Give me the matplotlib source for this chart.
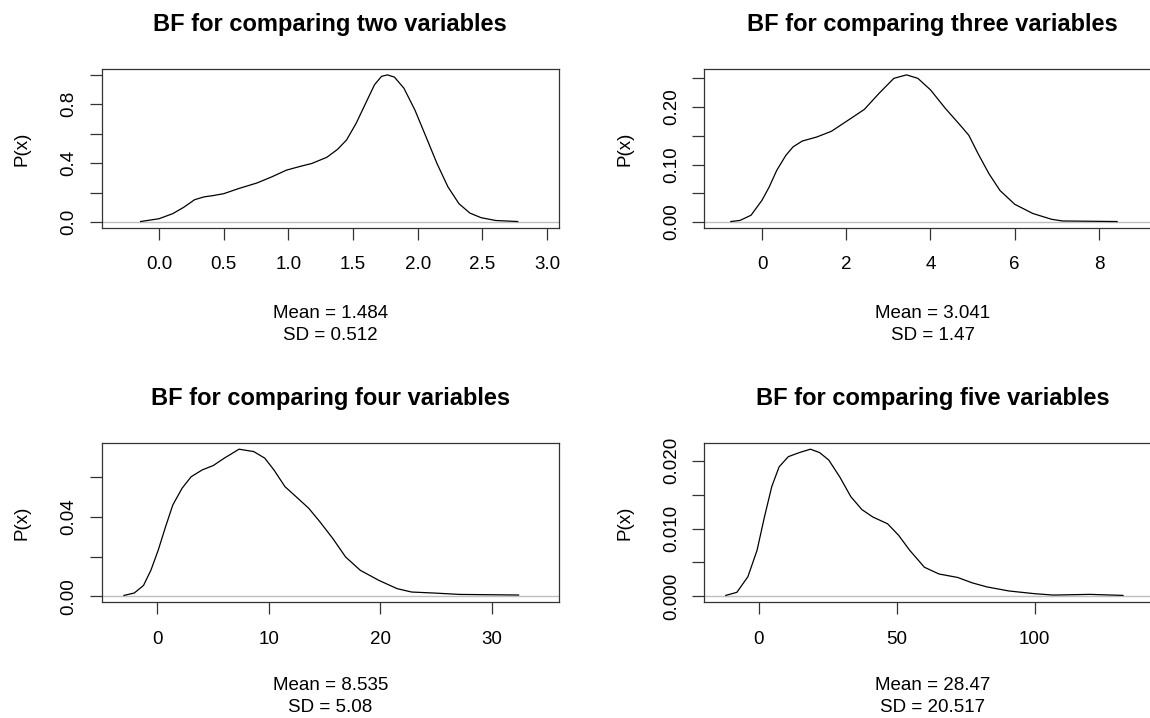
import matplotlib
matplotlib.use("Agg")
import matplotlib.pyplot as plt

plt.rcParams['font.family'] = ['Liberation Sans', 'DejaVu Sans']

# density curves
two_x = [-0.142, 0.0, 0.105, 0.19, 0.275, 0.346, 0.417, 0.50, 0.616, 0.758, 0.871, 0.985,
         1.098, 1.18, 1.297, 1.38, 1.45, 1.524, 1.61, 1.666, 1.72, 1.766, 1.82, 1.893,
         1.978, 2.064, 2.149, 2.234, 2.319, 2.404, 2.49, 2.603, 2.773]
two_y = [0.004, 0.023, 0.057, 0.10, 0.152, 0.171, 0.18, 0.193, 0.228, 0.266, 0.307, 0.353,
         0.38, 0.398, 0.44, 0.494, 0.558, 0.671, 0.83, 0.933, 0.99, 1.0, 0.985, 0.91,
         0.762, 0.58, 0.398, 0.239, 0.125, 0.061, 0.03, 0.011, 0.004]

three_x = [-0.74, -0.52, -0.26, 0.0, 0.17, 0.35, 0.565, 0.74, 0.957, 1.30, 1.65, 2.0, 2.43,
           2.78, 3.13, 3.43, 3.70, 4.0, 4.35, 4.70, 4.91, 5.13, 5.39, 5.65, 6.0, 6.43,
           6.87, 7.13, 8.43]
three_y = [0.001, 0.003, 0.012, 0.038, 0.061, 0.09, 0.116, 0.131, 0.141, 0.148, 0.158, 0.175,
           0.196, 0.224, 0.25, 0.256, 0.25, 0.23, 0.198, 0.169, 0.151, 0.119, 0.084, 0.055,
           0.031, 0.015, 0.005, 0.002, 0.001]

four_x = [-3.0, -2.08, -1.25, -0.59, 0.07, 0.73, 1.38, 2.21, 3.03, 4.02, 5.01, 6.0, 7.32,
          8.64, 9.63, 10.45, 11.44, 12.43, 13.58, 14.57, 15.73, 16.88, 18.2, 19.85, 21.5,
          22.8, 24.8, 27.1, 32.4]
four_y = [0.0005, 0.0017, 0.0055, 0.0131, 0.0232, 0.035, 0.0459, 0.0543, 0.0601, 0.0635,
          0.0657, 0.0694, 0.0739, 0.0727, 0.0694, 0.0635, 0.0551, 0.0501, 0.0442, 0.0375,
          0.0291, 0.0198, 0.0131, 0.0081, 0.0039, 0.0022, 0.0017, 0.001, 0.0007]

five_x = [-12, -8, -4, -0.67, 2, 4.67, 7.33, 10.67, 14.67, 18.67, 22, 25.33, 29.33, 33.33,
          37.33, 41.33, 46.67, 50.67, 54.67, 60, 65.33, 72, 77.33, 82.67, 90.67, 100,
          106.67, 120, 132]
five_y = [0.00015, 0.0006, 0.0029, 0.0068, 0.0117, 0.0162, 0.0191, 0.0206, 0.0212, 0.0217,
          0.0212, 0.0201, 0.0176, 0.0147, 0.0128, 0.0117, 0.0107, 0.009, 0.0068, 0.0043,
          0.0033, 0.0028, 0.002, 0.0014, 0.0008, 0.0004, 0.0002, 0.0003, 0.00015]

titles = ["BF for comparing two variables", "BF for comparing three variables",
          "BF for comparing four variables", "BF for comparing five variables"]
means = ["1.484", "3.041", "8.535", "28.47"]
sds = ["0.512", "1.47", "5.08", "20.517"]

xticks = [[0, 0.5, 1.0, 1.5, 2.0, 2.5, 3.0], [0, 2, 4, 6, 8], [0, 10, 20, 30], [0, 50, 100]]
xticklabels = [["0.0", "0.5", "1.0", "1.5", "2.0", "2.5", "3.0"],
               ["0", "2", "4", "6", "8"], ["0", "10", "20", "30"], ["0", "50", "100"]]
yticks = [[0, 0.2, 0.4, 0.6, 0.8, 1.0], [0, 0.05, 0.10, 0.15, 0.20, 0.25],
          [0, 0.02, 0.04, 0.06], [0, 0.005, 0.010, 0.015, 0.020]]
yticklabels = [["0.0", "", "0.4", "", "0.8", ""], ["0.00", "", "0.10", "", "0.20", ""],
               ["0.00", "", "0.04", ""], ["0.000", "", "0.010", "", "0.020"]]
xlims = [(-0.443, 3.09), (-1.37, 9.48), (-5.0, 36.0), (-19.8, 145.9)]

curves = [(two_x, two_y), (three_x, three_y), (four_x, four_y), (five_x, five_y)]

W, H = 1150, 718
fig = plt.figure(figsize=(W / 100, H / 100), dpi=100)

# panel boxes in pixels (left, top), same size for all four
lefts = [101.7, 704.3, 101.7, 704.3]
tops = [69.0, 69.0, 443.3, 443.3]
bw, bh = 457.0, 159.0
# vertical offsets of the two caption lines (axes fraction)
mean_y = [-0.538, -0.538, -0.524, -0.524]
sd_y = [-0.676, -0.676, -0.663, -0.663]

for i in range(4):
    ax = fig.add_axes([lefts[i] / W, 1 - (tops[i] + bh) / H, bw / W, bh / H])
    x, y = curves[i]
    peak = max(y)
    ax.axhline(0, color='#bebebe', lw=1.0, zorder=1)
    ax.plot(x, y, color='black', lw=0.9, zorder=2)
    ax.set_xlim(*xlims[i])
    ax.set_ylim(-0.04 * peak, 1.04 * peak)

    ax.set_xticks(xticks[i])
    ax.set_xticklabels(xticklabels[i])
    ax.set_yticks(yticks[i][:len(yticklabels[i])])
    ax.set_yticklabels(yticklabels[i], rotation=90, va='center')
    ax.tick_params(direction='out', length=8.5, width=0.9, color='#333333',
                   labelsize=13.5)
    ax.tick_params(axis='x', pad=12)
    ax.tick_params(axis='y', pad=9)
    for s in ax.spines.values():
        s.set_color('#333333')
        s.set_linewidth(0.9)

    ax.text(0.5, 1.283, titles[i], transform=ax.transAxes, ha='center', va='center',
            fontsize=17, fontweight='bold')
    ax.text(0.5, mean_y[i], "Mean = " + means[i], transform=ax.transAxes,
            ha='center', va='center', fontsize=13.5)
    ax.text(0.5, sd_y[i], "SD = " + sds[i], transform=ax.transAxes,
            ha='center', va='center', fontsize=13.5)
    # y label sits at a fixed distance left of the box
    ax.text(-(101.7 - 22) / bw, 0.5, "P(x)", transform=ax.transAxes, rotation=90,
            ha='center', va='center', fontsize=13.5)

fig.savefig("out.png", dpi=100)
